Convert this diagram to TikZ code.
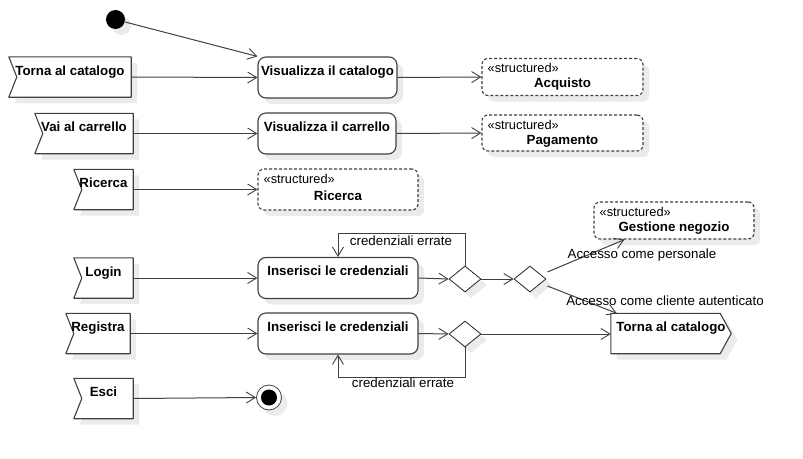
\documentclass[tikz,border=0pt]{standalone}
\usepackage{fontspec}
\setmainfont{Liberation Sans}
\usetikzlibrary{arrows.meta,calc,shapes.geometric,shadows,backgrounds}

\begin{document}
\begin{tikzpicture}[
  x=1pt, y=-1pt,
  font=\fontsize{13.3}{15}\selectfont,
  flow arrow/.style={
    draw=black!75,
    line width=1pt,
    arrows = {-Straight Barb[length=9pt,width=11pt,line width=0.9pt]}
  },
  shadowed/.style={
    drop shadow={shadow xshift=6pt, shadow yshift=-6pt, fill=black!8, opacity=1}
  },
  outline/.style={
    draw=black!75,
    line width=1.1pt,
    fill=white,
    line join=round,
    shadowed
  },
  action/.style={
    outline,
    rounded corners=8pt,
    inner sep=0pt,
    text height=18pt,
    text depth=23pt,
    font=\fontsize{13.3}{15}\selectfont\bfseries
  },
  accept/.style={
    inner sep=0pt,
    text height=18pt,
    text depth=22pt,
    font=\fontsize{13.3}{15}\selectfont\bfseries
  },
  structured/.style={
    outline,
    dash pattern=on 3pt off 2pt,
    rounded corners=6pt,
    inner sep=0pt,
    minimum width=161pt,
    text height=29pt,
    text depth=8pt,
    font=\fontsize{13.3}{15}\selectfont\bfseries
  },
  stereo/.style={
    anchor=base west,
    inner sep=0pt,
    font=\fontsize{12.8}{14}\selectfont
  },
  decision/.style={
    diamond,
    draw=black!85,
    line width=0.8pt,
    fill=white,
    inner sep=0pt,
    minimum width=32pt,
    minimum height=26pt,
    shadowed
  },
  guard/.style={
    anchor=base,
    inner sep=0pt
  }]

  \useasboundingbox (0,0) rectangle (803,458);

  % initial and final nodes
  \node [circle, fill=black, minimum size=19pt, inner sep=0pt, shadowed] (init) at (115.5,19.5) {};
  \node [circle, outline, line width=0.8pt, minimum size=25pt, inner sep=0pt] (fin) at (269,397.5) {};
  \node [circle, fill=black, minimum size=16pt, inner sep=0pt] (fin_dot) at (fin) {};

  % accept event actions
  \node [accept, minimum width=122pt] (torna) at (70,77) {Torna al catalogo};
  \node [accept, minimum width=98pt] (vai) at (84,133.5) {Vai al carrello};
  \node [accept, minimum width=59pt] (ricerca) at (103.5,189.5) {Ricerca};
  \node [accept, minimum width=59pt] (login) at (103.5,278) {Login};
  \node [accept, minimum width=64pt] (registra) at (98,333.5) {Registra};
  \node [accept, minimum width=59pt] (esci) at (103.5,398.5) {Esci};
  \node [accept, minimum width=120pt] (send) at (671,333.5) {Torna al catalogo};

  \begin{scope}[on background layer]
    \foreach \n in {torna,vai,ricerca,login,registra,esci}
      \path [outline] (\n.north west) -- ($(\n.west)+(8,0)$) -- (\n.south west)
        -- (\n.south east) -- (\n.north east) -- cycle;
    \path [outline] (send.north west) -- ($(send.north east)+(-11,0)$) -- (send.east)
      -- ($(send.south east)+(-11,0)$) -- (send.south west) -- cycle;
  \end{scope}

  % actions
  \node [action, minimum width=139pt] (viscat) at (327.5,77.5) {Visualizza il catalogo};
  \node [action, minimum width=138pt] (viscar) at (327,133.5) {Visualizza il carrello};
  \node [action, minimum width=160pt] (cred_login) at (338,278) {Inserisci le credenziali};
  \node [action, minimum width=160pt] (cred_reg) at (338,333.5) {Inserisci le credenziali};

  % structured activities
  \node [structured, minimum width=160pt, text height=31pt, text depth=10pt] (ricerca_s) at (338,189.5) {Ricerca};
  \node [structured] (acquisto) at (562.5,77) {Acquisto};
  \node [structured, text depth=7pt] (pagamento) at (562.5,133) {Pagamento};
  \node [structured, minimum width=160pt] (gestione) at (674,220.5) {Gestione negozio};
  \foreach \s in {ricerca_s,acquisto,pagamento,gestione}
    \node [stereo] (\s_st) at ($(\s.north west)+(6,15)$) {«structured»};

  % decisions
  \node [decision] (d1) at (465,279) {};
  \node [decision] (d2) at (530,279) {};
  \node [decision] (d3) at (465,334) {};

  \draw [flow arrow] (init) -- (viscat.north west);
  \draw [flow arrow] (torna.east) -- (viscat.west);
  \draw [flow arrow] (viscat.east) -- (acquisto.west);
  \draw [flow arrow] (vai.east) -- (viscar.west);
  \draw [flow arrow] (viscar.east) -- (pagamento.west);
  \draw [flow arrow] (ricerca.east) -- (ricerca_s.west);
  \draw [flow arrow] (login.east) -- (cred_login.west);
  \draw [flow arrow] (cred_login.east) -- (d1.west);
  \draw [flow arrow] (d1.east) -- (d2.west);
  \draw [flow arrow] (registra.east) -- (cred_reg.west);
  \draw [flow arrow] (cred_reg.east) -- (d3.west);
  \draw [flow arrow] (d3.east) -- (d3.east -| send.west);
  \draw [flow arrow] (esci.east) -- (fin.west);

  \draw [flow arrow] (d1.north) -- ++(0,-32) -| (cred_login.north);
  \draw [flow arrow] (d3.south) -- ++(0,30) -| (cred_reg.south);
  \node [guard] (err_login) at (401,245) {credenziali errate};
  \node [guard] (err_reg) at (403,387) {credenziali errate};

  \draw [flow arrow] ($(d2.east)+(1,-7)$) -- ($(gestione.south west)+(31,0)$);
  \draw [flow arrow] ($(d2.east)+(1,7)$) -- ($(send.north west)+(6,0)$);
  \node [guard] (personale) at (642,258) {Accesso come personale};
  \node [guard] (cliente) at (665,305) {Accesso come cliente autenticato};
\end{tikzpicture}
\end{document}
